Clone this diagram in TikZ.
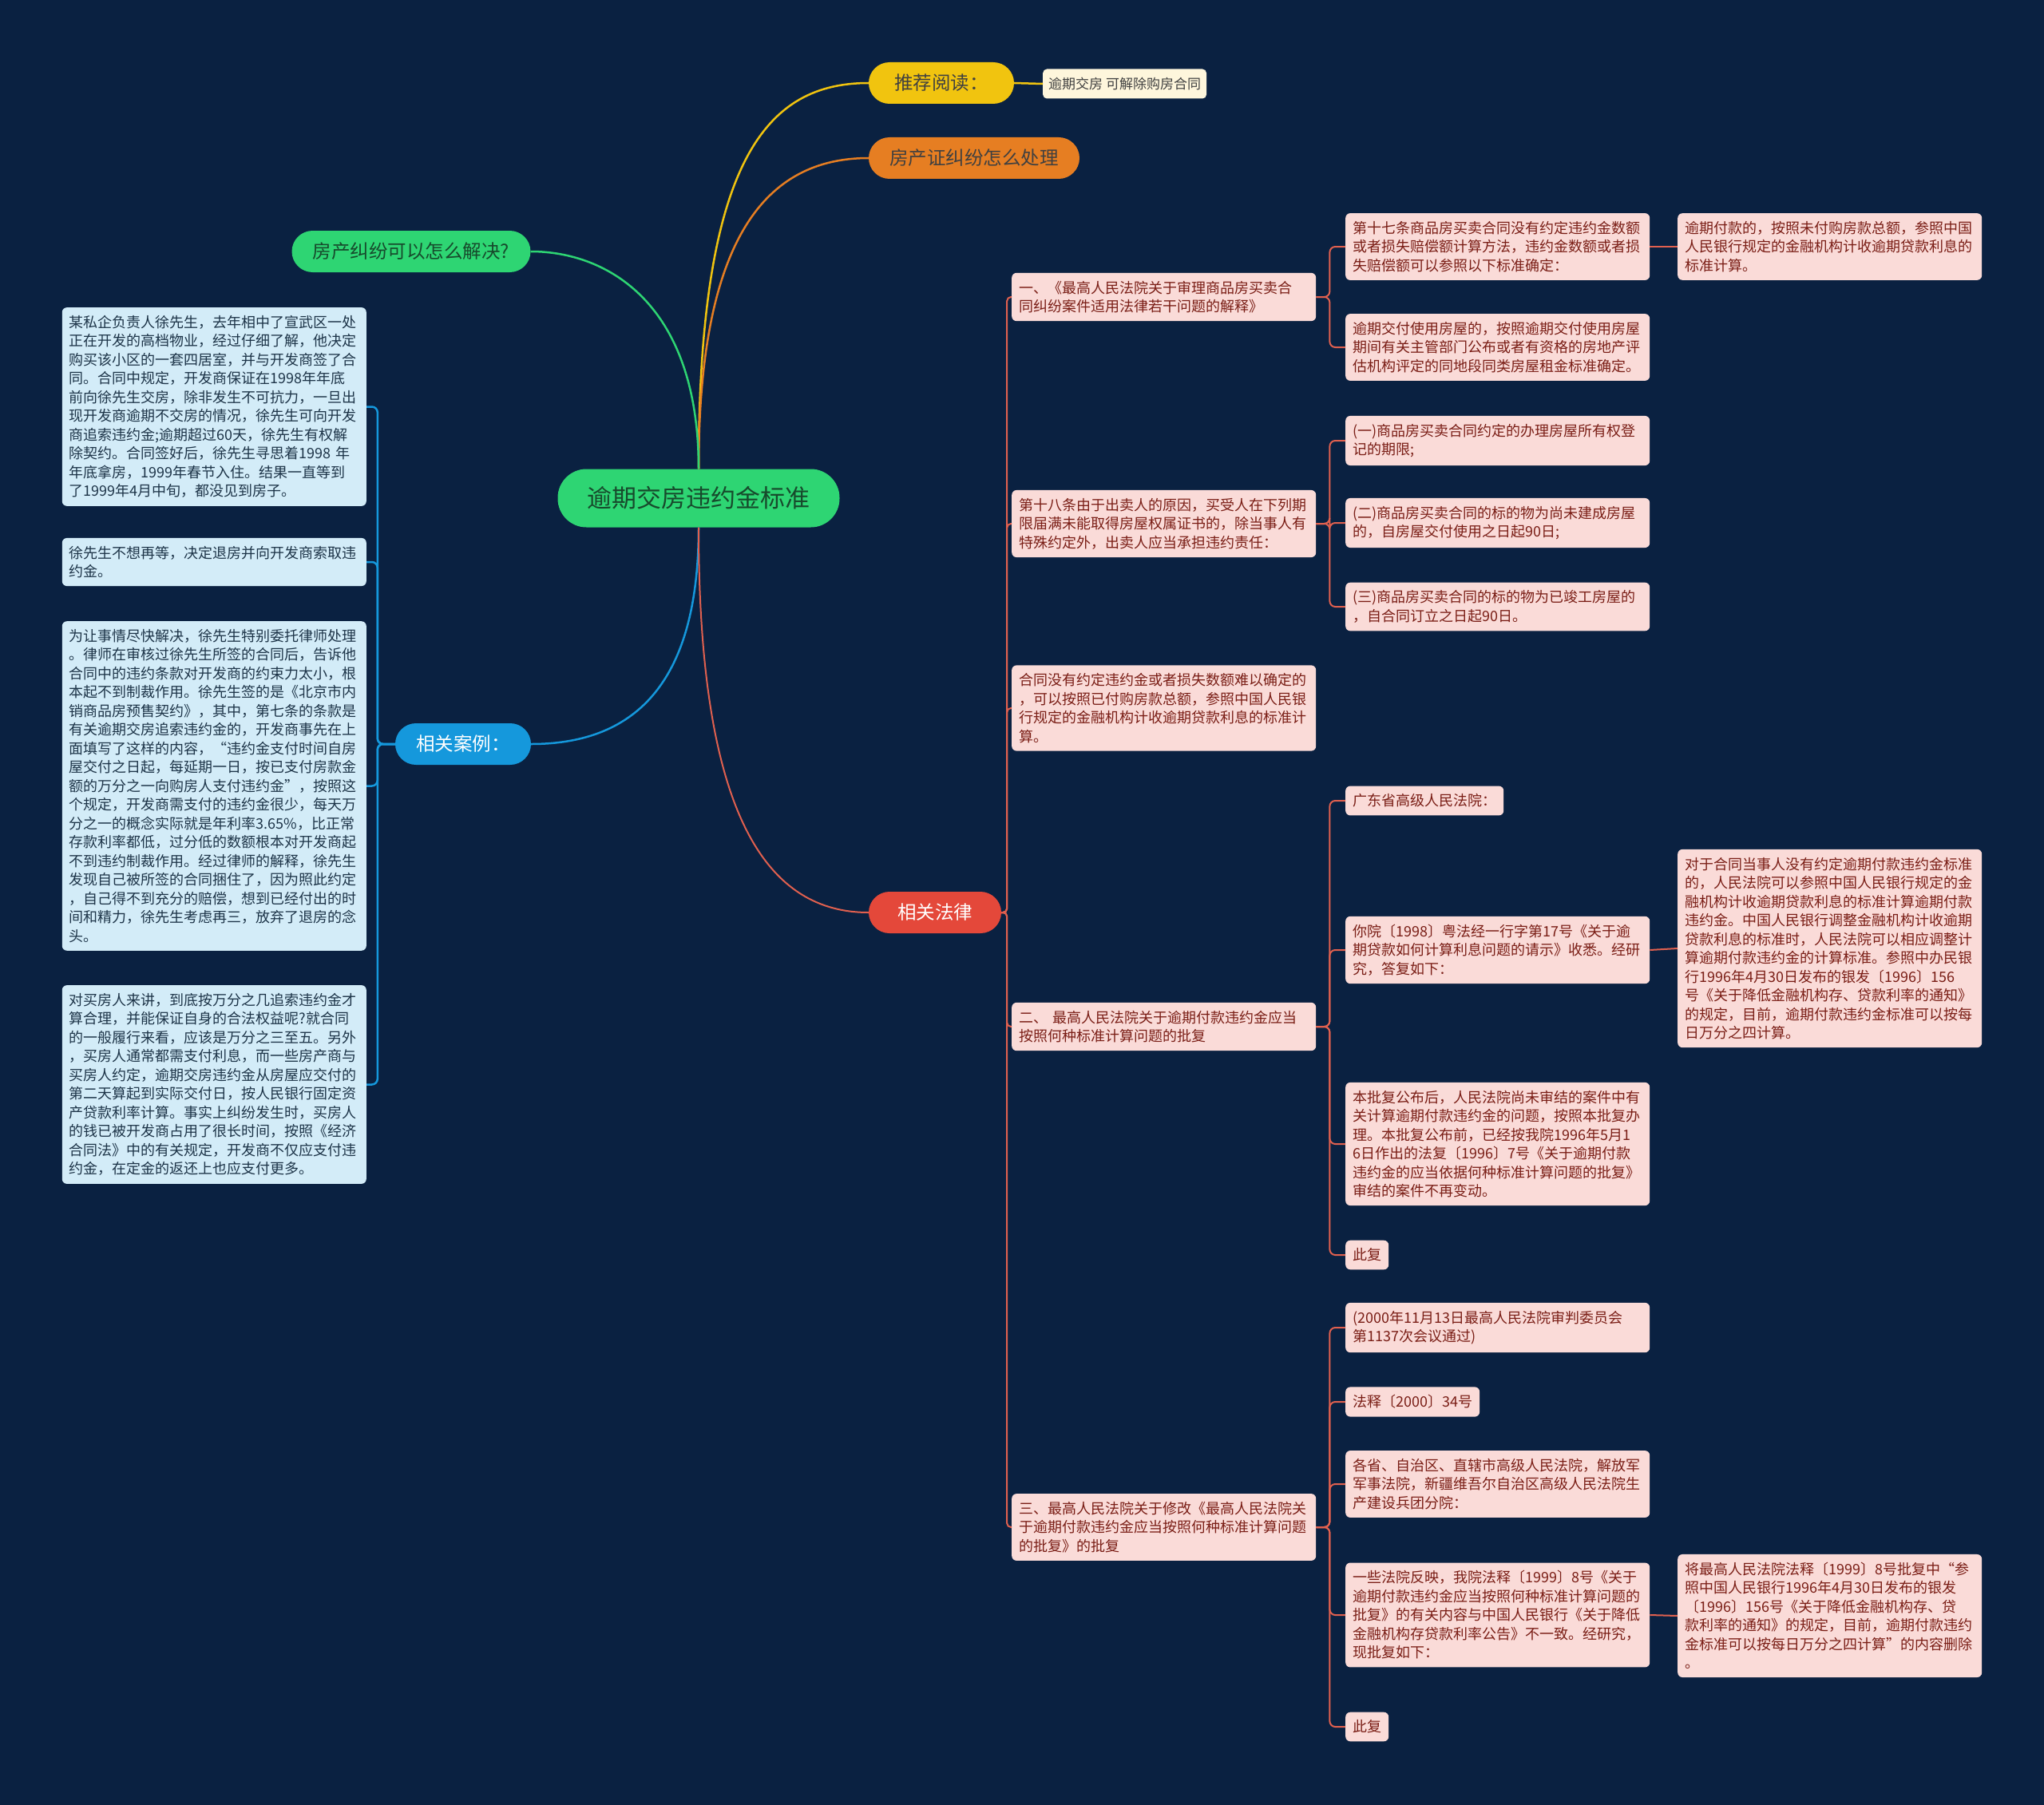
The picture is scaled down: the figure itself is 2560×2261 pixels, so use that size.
\documentclass[tikz,border=0pt]{standalone}
\usepackage{fontspec}
\setmainfont{Noto Sans CJK SC}
\usepackage{xcolor}
\usetikzlibrary{positioning}

\definecolor{bgnavy}{HTML}{0A2141}
\definecolor{rootgreen}{HTML}{2ED573}
\definecolor{greentext}{HTML}{174A2C}
\definecolor{pillyellow}{HTML}{F1C40F}
\definecolor{pillorange}{HTML}{E67E22}
\definecolor{pillblue}{HTML}{1598DC}
\definecolor{pillred}{HTML}{E4483A}
\definecolor{lawpink}{HTML}{FADBD8}
\definecolor{lawtext}{HTML}{7A1E16}
\definecolor{lawline}{HTML}{E0604F}
\definecolor{caseblue}{HTML}{D3ECF8}
\definecolor{casetext}{HTML}{1D3448}
\definecolor{linkcream}{HTML}{FEF6DC}

\begin{document}
\begin{tikzpicture}[x=1pt, y=-1pt,
  pill/.style={rounded corners=26pt, minimum height=52pt, inner xsep=4pt,
    font=\fontsize{23.5}{28}\selectfont},
  lawbox/.style={fill=lawpink, text=lawtext, rounded corners=6pt, inner xsep=9pt,
    inner ysep=10pt, align=left, font=\fontsize{18}{23.5}\selectfont},
  lawwide/.style={lawbox, text width=363pt},
  casebox/.style={fill=caseblue, text=casetext, rounded corners=6pt, inner xsep=9pt,
    inner ysep=10pt, align=left, text width=363pt, font=\fontsize{18}{23.5}\selectfont},
  mainline/.style={line width=2.5pt},
  redline/.style={draw=lawline, line width=2pt, rounded corners=7pt},
  blueline/.style={draw=pillblue, line width=2.5pt, rounded corners=7pt}]

  \fill[bgnavy] (0,0) rectangle (2560,2261);

  % Define the main topics
  \node[pill, fill=rootgreen, text=greentext, rounded corners=36pt, minimum width=353pt,
    minimum height=73pt, font=\fontsize{31}{36}\selectfont] (root) at (875,624) {逾期交房违约金标准};
  \node[pill, fill=pillyellow, text=black!75, minimum width=182pt] (read) at (1179,104) {推荐阅读：};
  \node[pill, fill=pillorange, text=black!75, minimum width=264pt] (deal) at (1220,198) {房产证纠纷怎么处理};
  \node[pill, fill=rootgreen, text=greentext, minimum width=299pt] (solve) at (515,315) {房产纠纷可以怎么解决?};
  \node[pill, fill=pillblue, text=white, minimum width=170pt] (cases) at (580,932) {相关案例：};
  \node[pill, fill=pillred, text=white, minimum width=166pt] (laws) at (1171,1143) {相关法律};
  \node[fill=linkcream, text=black!75, rounded corners=5pt, inner xsep=7pt, minimum height=37pt,
    anchor=west, font=\fontsize{17}{20}\selectfont] (link) at (1306,105) {逾期交房 可解除购房合同};

  % Define the case boxes
  \node[casebox, anchor=east] (case1) at (459,509.5) {某私企负责人徐先生，去年相中了宣武区一处\\
    正在开发的高档物业，经过仔细了解，他决定\\
    购买该小区的一套四居室，并与开发商签了合\\
    同。合同中规定，开发商保证在1998年年底\\
    前向徐先生交房，除非发生不可抗力，一旦出\\
    现开发商逾期不交房的情况，徐先生可向开发\\
    商追索违约金;逾期超过60天，徐先生有权解\\
    除契约。合同签好后，徐先生寻思着1998 年\\
    年底拿房，1999年春节入住。结果一直等到\\
    了1999年4月中旬，都没见到房子。};
  \node[casebox, anchor=east] (case2) at (459,704) {徐先生不想再等，决定退房并向开发商索取违\\
    约金。};
  \node[casebox, anchor=east] (case3) at (459,984.5) {为让事情尽快解决，徐先生特别委托律师处理\\
    。律师在审核过徐先生所签的合同后，告诉他\\
    合同中的违约条款对开发商的约束力太小，根\\
    本起不到制裁作用。徐先生签的是《北京市内\\
    销商品房预售契约》，其中，第七条的条款是\\
    有关逾期交房追索违约金的，开发商事先在上\\
    面填写了这样的内容，“违约金支付时间自房\\
    屋交付之日起，每延期一日，按已支付房款金\\
    额的万分之一向购房人支付违约金”，按照这\\
    个规定，开发商需支付的违约金很少，每天万\\
    分之一的概念实际就是年利率3.65\%，比正常\\
    存款利率都低，过分低的数额根本对开发商起\\
    不到违约制裁作用。经过律师的解释，徐先生\\
    发现自己被所签的合同捆住了，因为照此约定\\
    ，自己得不到充分的赔偿，想到已经付出的时\\
    间和精力，徐先生考虑再三，放弃了退房的念\\
    头。};
  \node[casebox, anchor=east] (case4) at (459,1358.5) {对买房人来讲，到底按万分之几追索违约金才\\
    算合理，并能保证自身的合法权益呢?就合同\\
    的一般履行来看，应该是万分之三至五。另外\\
    ，买房人通常都需支付利息，而一些房产商与\\
    买房人约定，逾期交房违约金从房屋应交付的\\
    第二天算起到实际交付日，按人民银行固定资\\
    产贷款利率计算。事实上纠纷发生时，买房人\\
    的钱已被开发商占用了很长时间，按照《经济\\
    合同法》中的有关规定，开发商不仅应支付违\\
    约金，在定金的返还上也应支付更多。};

  % Define the law boxes
  \node[lawwide, anchor=west] (law1) at (1267,372) {一、《最高人民法院关于审理商品房买卖合\\
    同纠纷案件适用法律若干问题的解释》};
  \node[lawwide, anchor=west] (law2) at (1267,656) {第十八条由于出卖人的原因，买受人在下列期\\
    限届满未能取得房屋权属证书的，除当事人有\\
    特殊约定外，出卖人应当承担违约责任：};
  \node[lawwide, anchor=west] (law3) at (1267,887) {合同没有约定违约金或者损失数额难以确定的\\
    ，可以按照已付购房款总额，参照中国人民银\\
    行规定的金融机构计收逾期贷款利息的标准计\\
    算。};
  \node[lawwide, anchor=west] (law4) at (1267,1286) {二、 最高人民法院关于逾期付款违约金应当\\
    按照何种标准计算问题的批复};
  \node[lawwide, anchor=west] (law5) at (1267,1913) {三、最高人民法院关于修改《最高人民法院关\\
    于逾期付款违约金应当按照何种标准计算问题\\
    的批复》的批复};

  \node[lawwide, anchor=west] (art17) at (1685,309) {第十七条商品房买卖合同没有约定违约金数额\\
    或者损失赔偿额计算方法，违约金数额或者损\\
    失赔偿额可以参照以下标准确定：};
  \node[lawwide, anchor=west] (late) at (1685,435) {逾期交付使用房屋的，按照逾期交付使用房屋\\
    期间有关主管部门公布或者有资格的房地产评\\
    估机构评定的同地段同类房屋租金标准确定。};
  \node[lawwide, anchor=west] (pay) at (2101,309) {逾期付款的，按照未付购房款总额，参照中国\\
    人民银行规定的金融机构计收逾期贷款利息的\\
    标准计算。};
  \node[lawwide, anchor=west] (item1) at (1685,552) {(一)商品房买卖合同约定的办理房屋所有权登\\
    记的期限;};
  \node[lawwide, anchor=west] (item2) at (1685,655) {(二)商品房买卖合同的标的物为尚未建成房屋\\
    的，自房屋交付使用之日起90日;};
  \node[lawwide, anchor=west] (item3) at (1685,760) {(三)商品房买卖合同的标的物为已竣工房屋的\\
    ，自合同订立之日起90日。};

  \node[lawbox, anchor=west] (gd) at (1685,1003) {广东省高级人民法院：};
  \node[lawwide, anchor=west] (reply) at (1685,1190) {你院〔1998〕粤法经一行字第17号《关于逾\\
    期贷款如何计算利息问题的请示》收悉。经研\\
    究，答复如下：};
  \node[lawwide, anchor=west] (rule) at (2101,1188) {对于合同当事人没有约定逾期付款违约金标准\\
    的，人民法院可以参照中国人民银行规定的金\\
    融机构计收逾期贷款利息的标准计算逾期付款\\
    违约金。中国人民银行调整金融机构计收逾期\\
    贷款利息的标准时，人民法院可以相应调整计\\
    算逾期付款违约金的计算标准。参照中办民银\\
    行1996年4月30日发布的银发〔1996〕156\\
    号《关于降低金融机构存、贷款利率的通知》\\
    的规定，目前，逾期付款违约金标准可以按每\\
    日万分之四计算。};
  \node[lawwide, anchor=west] (after) at (1685,1433) {本批复公布后，人民法院尚未审结的案件中有\\
    关计算逾期付款违约金的问题，按照本批复办\\
    理。本批复公布前，已经按我院1996年5月1\\
    6日作出的法复〔1996〕7号《关于逾期付款\\
    违约金的应当依据何种标准计算问题的批复》\\
    审结的案件不再变动。};
  \node[lawbox, anchor=west] (done1) at (1685,1572) {此复};

  \node[lawwide, anchor=west] (meet) at (1685,1663) {(2000年11月13日最高人民法院审判委员会\\
    第1137次会议通过)};
  \node[lawbox, anchor=west] (num) at (1685,1756) {法释〔2000〕34号};
  \node[lawwide, anchor=west] (courts) at (1685,1859) {各省、自治区、直辖市高级人民法院，解放军\\
    军事法院，新疆维吾尔自治区高级人民法院生\\
    产建设兵团分院：};
  \node[lawwide, anchor=west] (some) at (1685,2023) {一些法院反映，我院法释〔1999〕8号《关于\\
    逾期付款违约金应当按照何种标准计算问题的\\
    批复》的有关内容与中国人民银行《关于降低\\
    金融机构存贷款利率公告》不一致。经研究，\\
    现批复如下：};
  \node[lawwide, anchor=west] (delete) at (2101,2024) {将最高人民法院法释〔1999〕8号批复中“参\\
    照中国人民银行1996年4月30日发布的银发\\
    〔1996〕156号《关于降低金融机构存、贷\\
    款利率的通知》的规定，目前，逾期付款违约\\
    金标准可以按每日万分之四计算”的内容删除\\
    。};
  \node[lawbox, anchor=west] (done2) at (1685,2163) {此复};

  % Draw lines from the root
  \draw[mainline, pillyellow] (root.north) .. controls +(0,-392) and +(-125,0) .. (read.west);
  \draw[mainline, pillorange] (root.north) .. controls +(0,-290) and +(-128,0) .. (deal.west);
  \draw[mainline, rootgreen] (root.north) .. controls +(0,-208) and +(95,0) .. (solve.east);
  \draw[mainline, pillblue] (root.south) .. controls +(0,189) and +(135,0) .. (cases.east);
  \draw[mainline, lawline, line width=2pt] (root.south) .. controls +(0,339) and +(-138,0) .. (laws.west);
  \draw[mainline, pillyellow] (read.east) -- (link.west);

  % Draw the case lines
  \draw[blueline] (cases.west) -- ++(-22,0) |- (case1.east);
  \draw[blueline] (cases.west) -- ++(-22,0) |- (case2.east);
  \draw[blueline] (cases.west) -- ++(-22,0) |- (case3.east);
  \draw[blueline] (cases.west) -- ++(-22,0) |- (case4.east);

  % Draw the law lines
  \draw[redline, rounded corners=5pt] (laws.east) -- ++(7,0) |- (law1.west);
  \draw[redline, rounded corners=5pt] (laws.east) -- ++(7,0) |- (law2.west);
  \draw[redline, rounded corners=5pt] (laws.east) -- ++(7,0) |- (law3.west);
  \draw[redline, rounded corners=5pt] (laws.east) -- ++(7,0) |- (law4.west);
  \draw[redline, rounded corners=5pt] (laws.east) -- ++(7,0) |- (law5.west);
  \draw[redline] (law1.east) -- ++(17,0) |- (art17.west);
  \draw[redline] (law1.east) -- ++(17,0) |- (late.west);
  \draw[redline] (art17.east) -- (pay.west);
  \draw[redline] (law2.east) -- ++(17,0) |- (item1.west);
  \draw[redline] (law2.east) -- ++(17,0) |- (item2.west);
  \draw[redline] (law2.east) -- ++(17,0) |- (item3.west);
  \draw[redline] (law4.east) -- ++(17,0) |- (gd.west);
  \draw[redline] (law4.east) -- ++(17,0) |- (reply.west);
  \draw[redline] (law4.east) -- ++(17,0) |- (after.west);
  \draw[redline] (law4.east) -- ++(17,0) |- (done1.west);
  \draw[redline] (reply.east) -- (rule.west);
  \draw[redline] (law5.east) -- ++(17,0) |- (meet.west);
  \draw[redline] (law5.east) -- ++(17,0) |- (num.west);
  \draw[redline] (law5.east) -- ++(17,0) |- (courts.west);
  \draw[redline] (law5.east) -- ++(17,0) |- (some.west);
  \draw[redline] (law5.east) -- ++(17,0) |- (done2.west);
  \draw[redline] (some.east) -- (delete.west);
\end{tikzpicture}
\end{document}
